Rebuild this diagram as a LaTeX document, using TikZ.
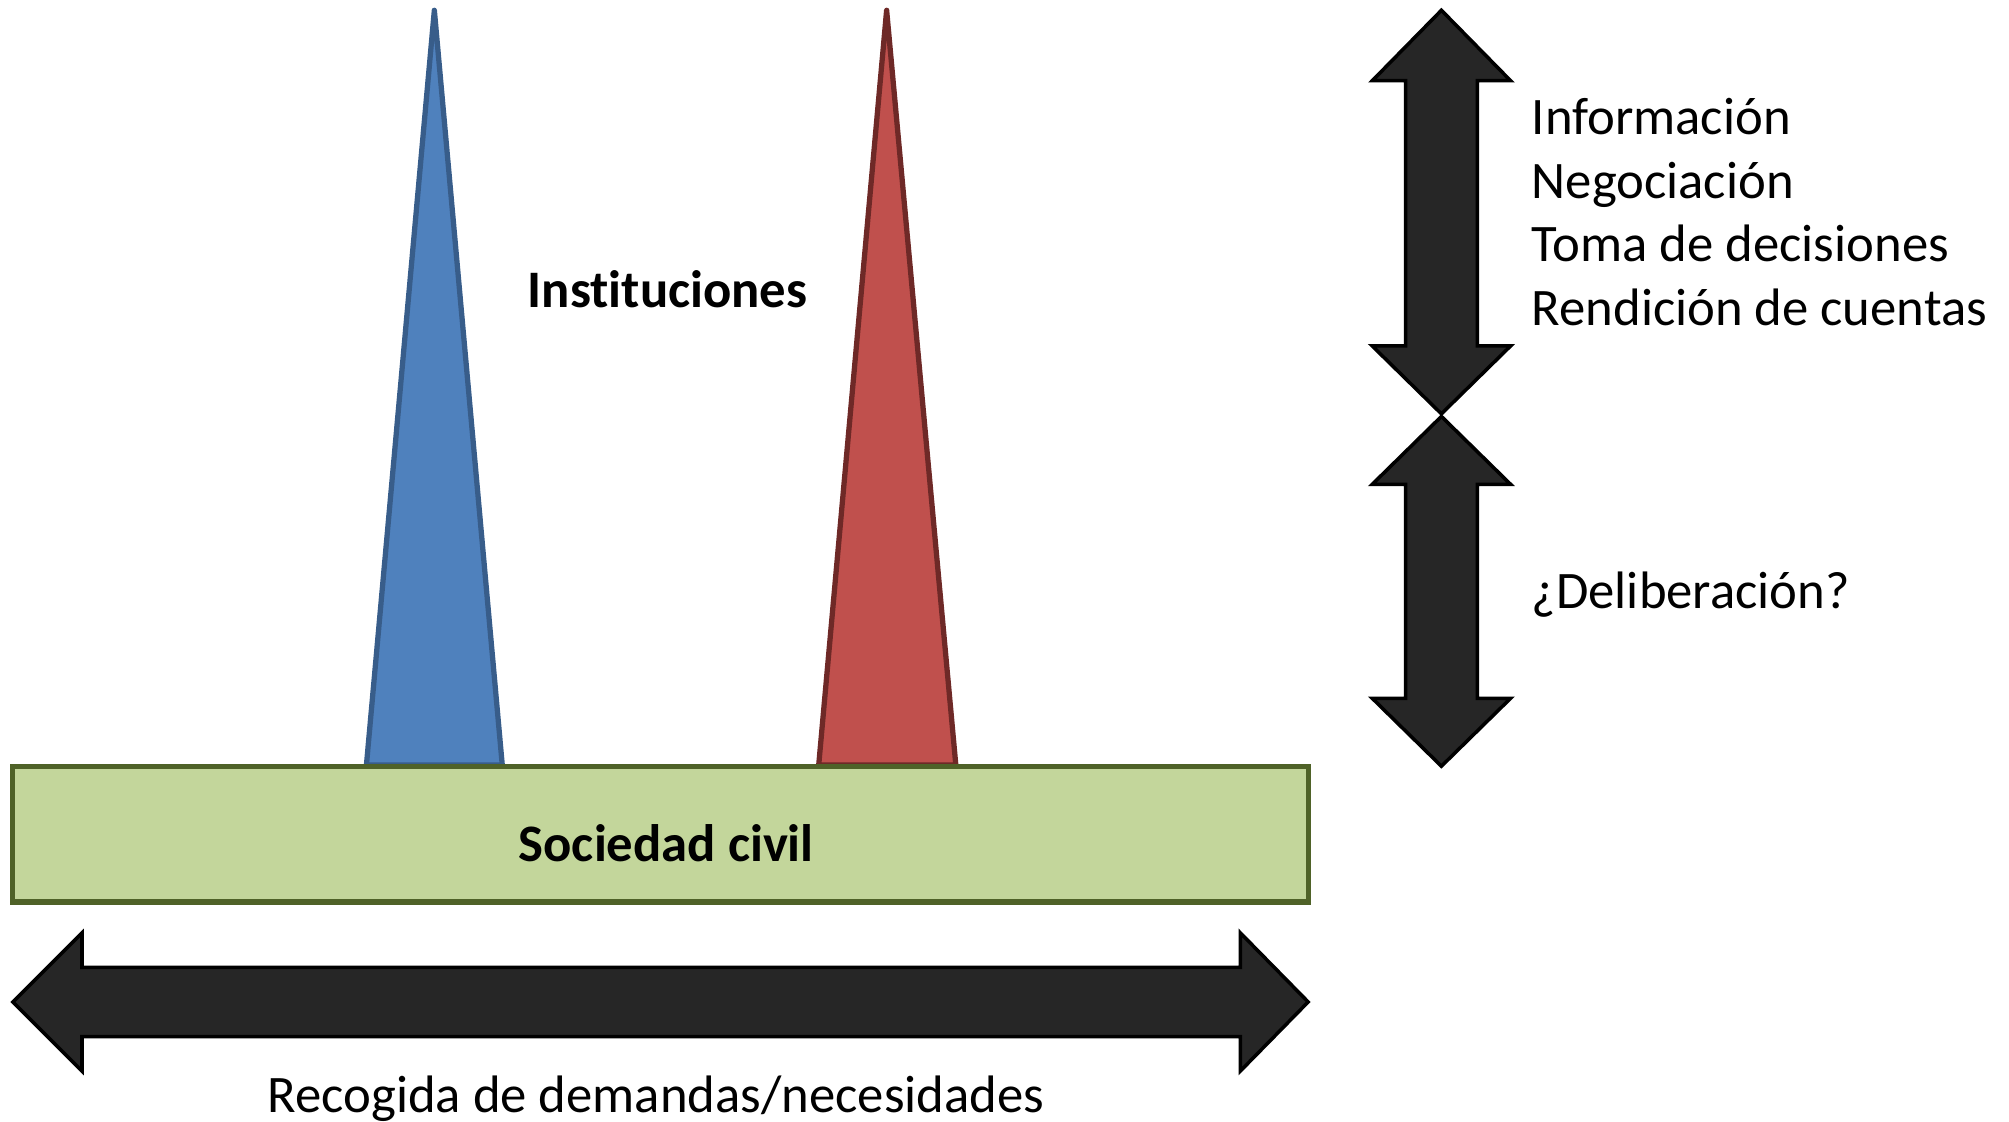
\documentclass[tikz,border=0pt]{standalone}
\usepackage{fontspec}
\setmainfont{Carlito}[Ligatures=NoCommon]
\usetikzlibrary{positioning}
\definecolor{instblue}{HTML}{4F81BD}
\definecolor{instblueline}{HTML}{385D8A}
\definecolor{instred}{HTML}{C0504D}
\definecolor{instredline}{HTML}{6E2927}
\definecolor{civilgreen}{HTML}{C3D69B}
\definecolor{civilline}{HTML}{4F6228}
\definecolor{arrowfill}{HTML}{262626}
\tikzset{
  bigarrow/.style={draw=black, fill=arrowfill, line width=1pt, line join=miter},
  bodytext/.style={font=\fontsize{15}{18}\selectfont, inner sep=0pt},
  boldtext/.style={font=\fontsize{15}{18}\selectfont\bfseries, inner sep=0pt},
}
\begin{document}
\begin{tikzpicture}[x=0.012813cm, y=-0.012813cm]
\useasboundingbox (0,0) rectangle (1568,875);

% pillars
\draw[fill=instblue, draw=instblueline, line width=1.5pt, line join=round] (339,8) -- (392,597) -- (286,597) -- cycle;
\draw[fill=instred, draw=instredline, line width=1.5pt, line join=round] (692,8) -- (746,597) -- (639,597) -- cycle;

% base
\draw[fill=civilgreen, draw=civilline, line width=1.5pt] (10,598) rectangle (1021,704);

\node[boldtext, anchor=base] (inst) at (521,240) {Instituciones};
\node[boldtext, anchor=base] (civil) at (520,672) {Sociedad civil};

% horizontal double arrow
\draw[bigarrow] (10,782) -- (64,728) -- (64,755) -- (968,755) -- (968,728) -- (1021,782)
  -- (968,836) -- (968,809) -- (64,809) -- (64,836) -- cycle;
\node[bodytext, anchor=base] (demandas) at (512,868) {Recogida de demandas/necesidades};

% vertical double arrows
\draw[bigarrow] (1125,8) -- (1179,63) -- (1153,63) -- (1153,270) -- (1179,270) -- (1125,323)
  -- (1071,270) -- (1097,270) -- (1097,63) -- (1071,63) -- cycle;
\draw[bigarrow] (1125,325) -- (1179,378) -- (1153,378) -- (1153,545) -- (1179,545) -- (1125,598)
  -- (1071,545) -- (1097,545) -- (1097,378) -- (1071,378) -- cycle;

\foreach \txt [count=\i] in {Información, Negociación, Toma de decisiones, Rendición de cuentas}
  \node[bodytext, anchor=base west] (stage\i) at (1195,{105+49.7*(\i-1)}) {\txt};
\node[bodytext, anchor=base west] (delib) at (1195,475) {¿Deliberación?};

\end{tikzpicture}
\end{document}
